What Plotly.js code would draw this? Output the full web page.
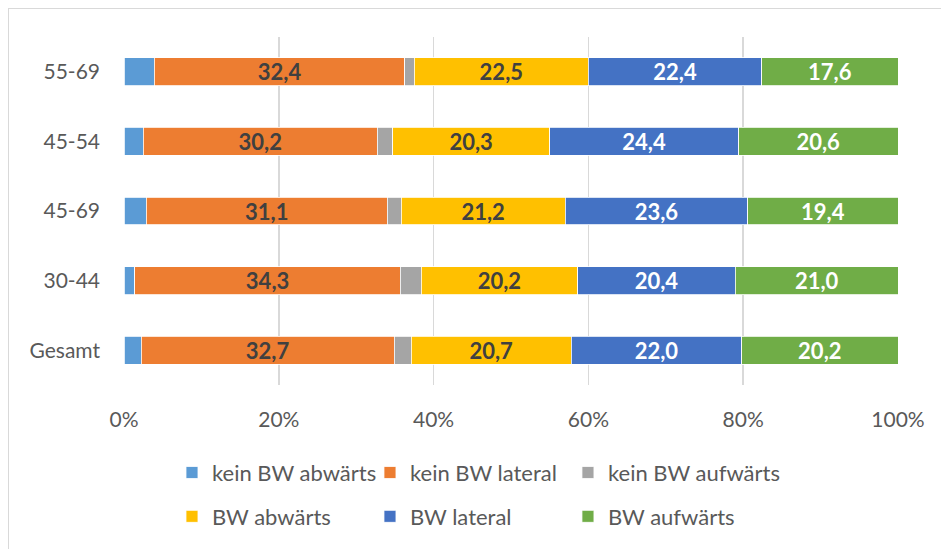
<!DOCTYPE html>
<html>
<head>
<meta charset="utf-8">
<script src="https://cdn.plot.ly/plotly-3.0.1.min.js"></script>
<style>
html,body{margin:0;padding:0;background:#fff;}
#wrap{position:relative;width:941px;height:549px;overflow:hidden;}
#chart{position:absolute;left:0;top:0;width:941px;height:549px;}
#frame{position:absolute;left:8px;top:8px;width:960px;height:600px;border-left:1px solid #d9d9d9;border-top:1px solid #d9d9d9;pointer-events:none;}
</style>
</head>
<body>
<div id="wrap"><div id="chart"></div><div id="frame"></div></div>
<script>
const categories = ['Gesamt', '30-44', '45-69', '45-54', '55-69'];
const seriesNames = ['kein BW abwärts', 'kein BW lateral', 'kein BW aufwärts', 'BW abwärts', 'BW lateral', 'BW aufwärts'];
const keinBWabwaerts = [2.2, 1.4, 2.9, 2.5, 3.9];
const keinBWlateral  = [32.7, 34.3, 31.1, 30.2, 32.4];
const keinBWaufwaerts = [2.2, 2.7, 1.8, 2.0, 1.2];
const BWabwaerts = [20.7, 20.2, 21.2, 20.3, 22.5];
const BWlateral  = [22.0, 20.4, 23.6, 24.4, 22.4];
const BWaufwaerts = [20.2, 21.0, 19.4, 20.6, 17.6];
const tickVals = [0, 20, 40, 60, 80, 100];
const tickText = ['0%', '20%', '40%', '60%', '80%', '100%'];

const values = [keinBWabwaerts, keinBWlateral, keinBWaufwaerts, BWabwaerts, BWlateral, BWaufwaerts];
const colors = ['#5B9BD5', '#ED7D31', '#A5A5A5', '#FFC000', '#4472C4', '#70AD47'];
const showLabel = [false, true, false, true, true, true];
const labelColor = ['#ffffff', '#404040', '#ffffff', '#404040', '#ffffff', '#ffffff'];
const FONT = 'Lato, "Open Sans", sans-serif';

const legendIds = ['legend', 'legend2', 'legend3', 'legend4', 'legend5', 'legend6'];
const legendX = [0.062, 0.3178, 0.5736];
const legendY = [-0.252, -0.378];

const traces = values.map((v, i) => ({
  type: 'bar',
  orientation: 'h',
  name: seriesNames[i],
  y: categories,
  x: v,
  marker: {color: colors[i], line: {color: '#ffffff', width: 0.8}},
  texttemplate: showLabel[i] ? '<b>%{x:.1f}</b>' : '',
  textposition: 'inside',
  insidetextanchor: 'middle',
  constraintext: 'none',
  textangle: 0,
  textfont: {family: FONT, size: 22, color: labelColor[i]},
  legend: legendIds[i],
  hoverinfo: 'x+y+name'
}));

const layout = {
  width: 941,
  height: 549,
  margin: {l: 124, r: 43, t: 37, b: 158, pad: 0},
  paper_bgcolor: '#ffffff',
  plot_bgcolor: '#ffffff',
  barmode: 'stack',
  bargap: 0.6,
  separators: ',.',
  font: {family: FONT, size: 21, color: '#595959'},
  showlegend: true,
  xaxis: {
    range: [0, 100],
    tickvals: tickVals,
    ticktext: tickText,
    showgrid: true,
    gridcolor: '#d9d9d9',
    gridwidth: 1.5,
    zeroline: false,
    showline: false,
    ticks: '',
    ticklabelstandoff: 20,
    tickfont: {family: FONT, size: 21, color: '#595959'},
    fixedrange: true
  },
  yaxis: {
    type: 'category',
    categoryorder: 'array',
    categoryarray: categories,
    showgrid: false,
    zeroline: false,
    showline: false,
    ticks: '',
    ticklabelstandoff: 23,
    tickfont: {family: FONT, size: 21, color: '#595959'},
    fixedrange: true
  }
};

legendIds.forEach((id, i) => {
  layout[id] = {
    orientation: 'h',
    xanchor: 'left',
    yanchor: 'middle',
    x: legendX[i % 3],
    y: legendY[Math.floor(i / 3)],
    font: {family: FONT, size: 22, color: '#595959'},
    itemwidth: 30,
    bgcolor: 'rgba(0,0,0,0)',
    itemclick: false,
    itemdoubleclick: false
  };
});

Plotly.newPlot('chart', traces, layout, {displayModeBar: false, staticPlot: true});
</script>
</body>
</html>
